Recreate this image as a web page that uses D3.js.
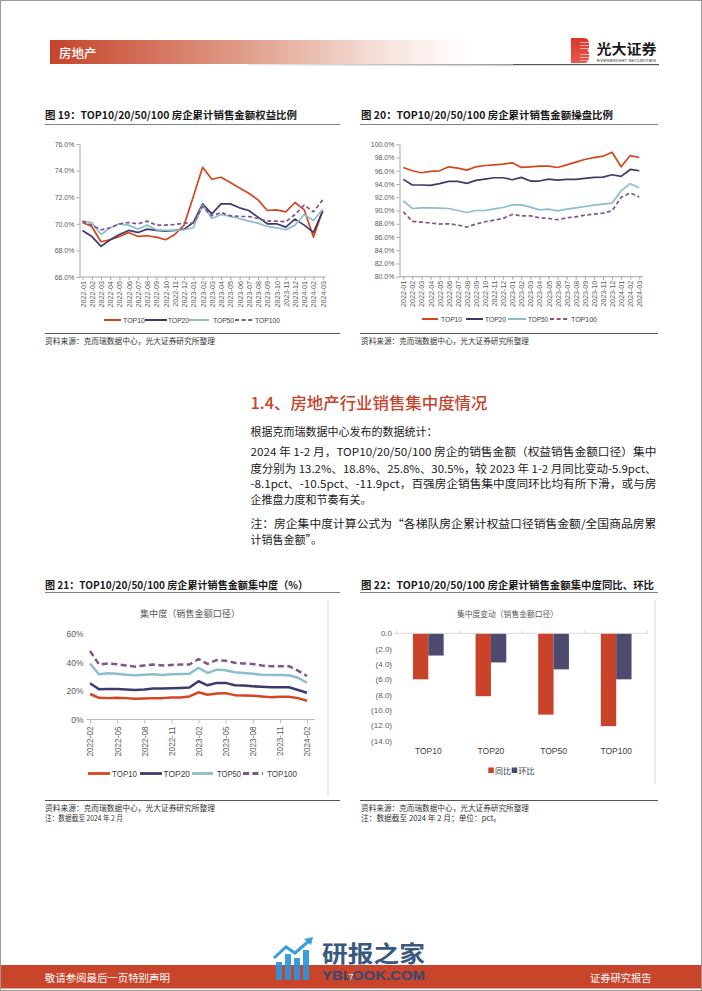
<!DOCTYPE html>
<html><head><meta charset="utf-8">
<script src="https://cdn.jsdelivr.net/npm/d3@7"></script>
<style>body{margin:0;background:#fff}svg{display:block}</style>
</head><body>
<svg id="page" width="702" height="991"></svg>
<script>
// ---------------- DATA ----------------
const months = ['2022-01','2022-02','2022-03','2022-04','2022-05','2022-06','2022-07','2022-08','2022-09','2022-10','2022-11','2022-12',
  '2023-01','2023-02','2023-03','2023-04','2023-05','2023-06','2023-07','2023-08','2023-09','2023-10','2023-11','2023-12',
  '2024-01','2024-02','2024-03'];
const seriesNames = ['TOP10','TOP20','TOP50','TOP100'];

// Fig 19: equity share (%)
const eqTop10  = [70.1,69.8,68.65,68.8,69.05,69.35,69.05,69.1,69.0,68.8,69.2,69.9,72.05,74.25,73.35,73.5,73.1,72.7,72.3,71.8,71.0,71.05,70.9,71.6,71.05,69.0,71.0];
const eqTop20  = [69.5,69.05,68.3,68.8,69.2,69.5,69.35,69.6,69.5,69.45,69.5,69.6,70.1,71.5,70.75,71.5,71.5,71.2,71.0,70.5,70.0,70.0,69.75,70.35,69.9,69.35,70.95];
const eqTop50  = [70.2,70.1,69.2,69.7,70.0,69.9,69.6,69.9,69.55,69.5,69.5,69.55,69.7,71.4,70.4,70.7,70.55,70.4,70.2,70.05,69.8,69.7,69.55,69.9,70.7,70.25,71.1];
const eqTop100 = [70.2,69.9,69.55,69.7,70.0,70.1,70.0,70.2,69.9,69.9,69.95,70.05,70.05,71.3,70.6,70.85,70.6,70.55,70.55,70.4,70.2,70.2,70.15,70.7,71.4,70.9,71.8];
const eqTicks = [66,68,70,72,74,76];

// Fig 20: operating share (%)
const opTop10  = [96.5,96.0,95.7,95.9,96.0,96.6,96.4,96.1,96.6,96.8,96.9,97.0,97.2,96.5,96.6,96.7,96.7,96.5,96.9,97.3,97.7,98.0,98.2,98.8,96.6,98.3,98.0];
const opTop20  = [94.7,93.85,93.85,93.8,94.05,94.4,94.4,94.1,94.55,94.75,94.95,94.95,94.65,95.0,94.45,94.45,94.75,94.6,94.7,94.7,94.85,95.0,95.05,95.4,95.15,96.2,96.0];
const opTop50  = [91.45,90.3,90.4,90.4,90.35,90.3,90.0,89.7,90.0,90.0,90.25,90.45,90.85,90.85,90.5,90.1,90.2,89.95,90.2,90.4,90.6,90.8,90.95,91.1,93.0,94.05,93.45];
const opTop100 = [89.8,88.35,88.25,88.1,87.95,88.0,87.8,87.5,87.95,88.3,88.55,88.8,89.4,89.2,89.2,88.9,88.8,88.6,88.9,89.05,89.3,89.45,89.6,89.95,92.0,92.65,92.05];
const opTicks = [80,82,84,86,88,90,92,94,96,98,100];

// Fig 21: concentration (%)
const months21 = ['2022-02','2022-03','2022-04','2022-05','2022-06','2022-07','2022-08','2022-09','2022-10','2022-11','2022-12','2023-01',
  '2023-02','2023-03','2023-04','2023-05','2023-06','2023-07','2023-08','2023-09','2023-10','2023-11','2023-12','2024-01','2024-02'];
const ticks21 = ['2022-02','2022-05','2022-08','2022-11','2023-02','2023-05','2023-08','2023-11','2024-02'];
const cTop10  = [17.9,15.2,15.0,15.2,15.0,14.5,14.8,15.0,15.0,15.5,15.5,16.2,19.1,17.4,18.3,18.5,17.1,16.9,16.7,16.2,15.7,16.0,16.0,15.0,13.2];
const cTop20  = [25.5,21.2,21.4,21.4,21.0,20.7,21.0,21.7,21.7,21.9,22.1,22.4,26.9,24.0,25.7,25.7,24.0,23.8,23.3,22.9,22.6,22.6,22.6,20.7,18.8];
const cTop50  = [39.3,31.7,32.4,32.1,31.4,31.0,31.4,31.7,31.2,31.7,31.9,32.1,36.3,32.6,35.0,34.5,33.1,32.6,32.1,31.4,31.2,31.2,31.0,29.3,25.8];
const cTop100 = [48.1,38.6,39.3,38.8,37.9,37.1,37.9,38.6,37.9,38.3,38.6,38.6,42.4,39.0,41.7,41.2,39.8,39.3,39.0,37.9,37.4,37.4,37.4,34.3,30.5];
const cTicks = [0,20,40,60];

// Fig 22: change (pct)
const chgCats = ['TOP10','TOP20','TOP50','TOP100'];
const chgNames = ['同比','环比'];
const chgYoY = [-6.0,-8.2,-10.6,-12.1];
const chgMoM = [-2.9,-3.8,-4.7,-6.0];
const chgTicks = [0,-2,-4,-6,-8,-10,-12,-14];

// ---------------- STYLE ----------------
const CJK = "'Noto Sans CJK SC','Noto Sans',sans-serif";
const LAT = "'Liberation Sans',Arial,sans-serif";
const COL = {TOP10:'#d6451f', TOP20:'#3d3b6c', TOP50:'#8cbdce', TOP100:'#7e568a'};
const BAR = {'同比':'#c8432a','环比':'#4c4a6e'};

const svg = d3.select('#page');
const defs = svg.append('defs');

// page frame
svg.append('rect').attr('x',0.5).attr('y',0.5).attr('width',701).attr('height',990)
  .attr('fill','none').attr('stroke','#9a9a9a');

// ---------------- HEADER ----------------
const hg = defs.append('linearGradient').attr('id','hdr').attr('x1','0').attr('x2','1').attr('y1','0').attr('y2','0');
hg.append('stop').attr('offset','0').attr('stop-color','#c6432b');
hg.append('stop').attr('offset','0.45').attr('stop-color','#df9a86');
hg.append('stop').attr('offset','0.8').attr('stop-color','#f6e2dc');
hg.append('stop').attr('offset','1').attr('stop-color','#ffffff');
svg.append('rect').attr('x',50).attr('y',40).attr('width',418).attr('height',24).attr('fill','url(#hdr)');
svg.append('text').attr('x',59).attr('y',52).attr('dominant-baseline','central')
  .attr('font-family',CJK).attr('font-size',12.5).attr('font-weight',500).attr('fill','#fff').text('房地产');
const lg1 = defs.append('linearGradient').attr('id','hl').attr('x1','0').attr('x2','1');
lg1.append('stop').attr('offset','0').attr('stop-color','#eeeeee');
lg1.append('stop').attr('offset','1').attr('stop-color','#9a9a9a');
svg.append('rect').attr('x',248).attr('y',64).attr('width',265).attr('height',1.5).attr('fill','url(#hl)');
svg.append('rect').attr('x',513).attr('y',64).attr('width',146).attr('height',1.2).attr('fill','#555');
// logo
const lgB = defs.append('linearGradient').attr('id','lb').attr('x1','0').attr('x2','0').attr('y1','0').attr('y2','1');
lgB.append('stop').attr('offset','0').attr('stop-color','#d9362b');
lgB.append('stop').attr('offset','1').attr('stop-color','#e8584a');
svg.append('path').attr('d','M571,38 H584 Q589,38 589,44 V48 Q589,50 587,50.5 Q589,51 589,53 V57 Q589,63 584,63 H571 Z').attr('fill','url(#lb)');
[42,45,48,54,57,60].forEach(yy=>svg.append('rect').attr('x',580).attr('y',yy).attr('width',9).attr('height',0.8).attr('fill','#fff').attr('opacity',0.7));
svg.append('text').attr('x',596.5).attr('y',48.3).attr('dominant-baseline','central')
  .attr('font-family',CJK).attr('font-size',14).attr('font-weight',700).attr('fill','#1a1a1a')
  .attr('textLength',60).attr('lengthAdjust','spacingAndGlyphs').text('光大证券');
svg.append('text').attr('x',597).attr('y',60).attr('dominant-baseline','central')
  .attr('font-family',LAT).attr('font-size',4).attr('fill','#333')
  .attr('textLength',59).attr('lengthAdjust','spacingAndGlyphs').text('EVERBRIGHT SECURITIES');

// ---------------- helpers ----------------
function txt(x,y,s,o){
  const t = svg.append('text').attr('x',x).attr('y',y).attr('dominant-baseline','central')
    .attr('font-family',o.font||CJK).attr('font-size',o.size).attr('fill',o.fill||'#1a1a1a')
    .attr('font-weight',o.weight||400).attr('text-anchor',o.anchor||'start').text(s);
  if(o.len) t.attr('textLength',o.len).attr('lengthAdjust','spacingAndGlyphs');
  return t;
}
function hline(x1,x2,y,c,w){svg.append('line').attr('x1',x1).attr('x2',x2).attr('y1',y).attr('y2',y).attr('stroke',c).attr('stroke-width',w||1);}
function vline(x,y1,y2,c,w){svg.append('line').attr('x1',x).attr('x2',x).attr('y1',y1).attr('y2',y2).attr('stroke',c).attr('stroke-width',w||1);}

// figure titles
txt(45,114,'图 19：TOP10/20/50/100 房企累计销售金额权益比例',{size:10.5,weight:700,len:252});
hline(45,340,124.5,'#7f7f7f');
txt(361,114,'图 20：TOP10/20/50/100 房企累计销售金额操盘比例',{size:10.5,weight:700,len:252});
hline(360,658,124.5,'#7f7f7f');
txt(45,584.5,'图 21：TOP10/20/50/100 房企累计销售金额集中度（%）',{size:10.5,weight:700,len:263});
hline(45,340,592.5,'#7f7f7f');
txt(361,584.5,'图 22：TOP10/20/50/100 房企累计销售金额集中度同比、环比',{size:10.5,weight:700,len:293});
hline(360,658,592.5,'#7f7f7f');

// sources
hline(45,340,333.5,'#555');
txt(45,340.5,'资料来源：克而瑞数据中心，光大证券研究所整理',{size:7.8,fill:'#333',len:170});
hline(360,658,333.5,'#555');
txt(361,340.5,'资料来源：克而瑞数据中心，光大证券研究所整理',{size:7.8,fill:'#333',len:168});
hline(45,340,800.5,'#555');
txt(45,807.5,'资料来源：克而瑞数据中心，光大证券研究所整理',{size:7.8,fill:'#333',len:170});
txt(45,817.5,'注：数据截至 2024 年 2 月',{size:7.8,fill:'#333',len:78});
hline(360,658,800.5,'#555');
txt(361,807.5,'资料来源：克而瑞数据中心，光大证券研究所整理',{size:7.8,fill:'#333',len:168});
txt(361,817.5,'注：数据截至 2024 年 2 月；单位：pct。',{size:7.8,fill:'#333',len:140});

// ---------------- line charts ----------------
function lineChart(o){
  const g = svg.append('g');
  const x = d3.scalePoint().domain(o.cats).range(o.xr);
  const y = d3.scaleLinear().domain(o.yd).range(o.yr);
  const ya = g.append('g').attr('transform',`translate(${o.ax},0)`)
    .call(d3.axisLeft(y).tickValues(o.yt).tickFormat(o.fmt).tickSize(o.ytick).tickSizeOuter(0).tickPadding(o.ypad));
  ya.select('.domain').attr('stroke',o.axisCol).attr('stroke-width',o.showY?1:0);
  ya.selectAll('.tick line').attr('stroke',o.axisCol);
  ya.selectAll('text').attr('font-family',o.tickFont).attr('font-size',o.tickSize).attr('fill','#595959');
  const xa = g.append('g').attr('transform',`translate(0,${o.yr[0]})`)
    .call(d3.axisBottom(x).tickValues(o.xt||o.cats).tickSize(o.xtick).tickSizeOuter(0));
  xa.select('.domain').attr('stroke',o.axisCol).attr('d',`M${o.ax},0H${o.xend}`);
  xa.selectAll('.tick line').attr('stroke',o.axisCol);
  xa.selectAll('text').attr('font-family',o.tickFont).attr('font-size',o.xTickSize).attr('fill','#595959')
    .attr('transform','rotate(-90)').attr('text-anchor','end').attr('x',-o.xpad).attr('y',0).attr('dy','0.35em');
  o.series.forEach(s=>{
    const line = d3.line().x((d,i)=>x(o.cats[i])).y(d=>y(d));
    g.append('path').datum(s.values).attr('d',line).attr('fill','none')
      .attr('stroke',COL[s.name]).attr('stroke-width',o.lw).attr('stroke-linejoin','round')
      .attr('stroke-dasharray',s.name==='TOP100'?o.dash:null);
  });
  o.legend.forEach((l,i)=>{
    const name = o.series[i].name;
    g.append('line').attr('x1',l[0]).attr('x2',l[1]).attr('y1',o.ly).attr('y2',o.ly)
      .attr('stroke',COL[name]).attr('stroke-width',o.lw+0.3).attr('stroke-dasharray',name==='TOP100'?o.dash:null);
    g.append('text').attr('x',l[2]).attr('y',o.ly).attr('dominant-baseline','central')
      .attr('font-family',o.tickFont).attr('font-size',o.legSize).attr('fill','#404040')
      .attr('textLength',l[3]).attr('lengthAdjust','spacingAndGlyphs').text(name);
  });
}

lineChart({cats:months, xr:[82.5,322.7], yd:[66,76], yr:[277,144], yt:eqTicks, fmt:d=>d.toFixed(1)+'%',
  ax:79.5, xend:326, ytick:3, ypad:2, xtick:3, xpad:4, showY:true, axisCol:'#a6a6a6', tickFont:LAT, tickSize:7, xTickSize:7.2,
  lw:1.7, dash:'4,2.6',
  series:[{name:'TOP10',values:eqTop10},{name:'TOP20',values:eqTop20},{name:'TOP50',values:eqTop50},{name:'TOP100',values:eqTop100}],
  ly:320, legend:[[104,121,123,22],[145,167,168,21],[189,209,213,21],[235,253,255,25]], legSize:7.2});

lineChart({cats:months, xr:[403.3,639.3], yd:[80,100], yr:[276.7,144.3], yt:opTicks, fmt:d=>d.toFixed(1)+'%',
  ax:399.5, xend:643, ytick:3, ypad:2, xtick:3, xpad:4, showY:true, axisCol:'#a6a6a6', tickFont:LAT, tickSize:7, xTickSize:7.2,
  lw:1.7, dash:'4,2.6',
  series:[{name:'TOP10',values:opTop10},{name:'TOP20',values:opTop20},{name:'TOP50',values:opTop50},{name:'TOP100',values:opTop100}],
  ly:319, legend:[[422,438,441,21],[466,483,485,21],[508,526,528,20],[550,568,571,26]], legSize:7.2});

// Fig 21 frame + inner title
vline(328,600,796,'#d9d9d9');
txt(190,613.3,'集中度（销售金额口径）',{size:9.5,fill:'#595959',anchor:'middle',len:100});
lineChart({cats:months21, xt:ticks21, xr:[90,307], yd:[0,60], yr:[719.5,634], yt:cTicks, fmt:d=>d+'%',
  ax:86.5, xend:315, ytick:0, ypad:3, xtick:4, xpad:7, showY:false, axisCol:'#bfbfbf', tickFont:LAT, tickSize:8.5, xTickSize:8.2,
  lw:2.5, dash:'6,3.5',
  series:[{name:'TOP10',values:cTop10},{name:'TOP20',values:cTop20},{name:'TOP50',values:cTop50},{name:'TOP100',values:cTop100}],
  ly:773.5, legend:[[88,110,112,25],[140,162,163.5,26.5],[192,213,217,24],[243,263,267,30]], legSize:8.5});

// ---------------- Fig 22 bars ----------------
vline(655,600,784,'#d9d9d9');
txt(507.5,612.7,'集中度变动（销售金额口径）',{size:8.5,fill:'#595959',anchor:'middle',len:101});
(function(){
  const g = svg.append('g');
  const x0 = d3.scaleBand().domain(chgCats).range([397,647.5]);
  const grp = x0.bandwidth()*0.49;
  const x1 = d3.scaleBand().domain(chgNames).range([0,grp]);
  const y = d3.scaleLinear().domain([-14,0]).range([740.7,633.3]);
  const ya = g.append('g').attr('transform','translate(395,0)')
    .call(d3.axisLeft(y).tickValues(chgTicks).tickSize(0).tickPadding(3)
      .tickFormat(d=>d===0?'0.0':'('+Math.abs(d).toFixed(1)+')'));
  ya.select('.domain').remove();
  ya.selectAll('text').attr('font-family',LAT).attr('font-size',8).attr('fill','#595959');
  const rows = chgCats.map((c,i)=>({cat:c, vals:[{k:'同比',v:chgYoY[i]},{k:'环比',v:chgMoM[i]}]}));
  rows.forEach(r=>{
    const off = x0(r.cat)+(x0.bandwidth()-grp)/2;
    r.vals.forEach(d=>{
      g.append('rect').attr('x',off+x1(d.k)).attr('width',x1.bandwidth())
        .attr('y',y(0)).attr('height',y(d.v)-y(0)).attr('fill',BAR[d.k]);
    });
    g.append('text').attr('x',x0(r.cat)+x0.bandwidth()/2).attr('y',750.7).attr('dominant-baseline','central')
      .attr('text-anchor','middle').attr('font-family',LAT).attr('font-size',8.5).attr('fill','#404040').text(r.cat);
  });
  g.append('line').attr('x1',395).attr('x2',647.5).attr('y1',y(0)).attr('y2',y(0)).attr('stroke','#d9d9d9');
  x0.domain().forEach(c=>{
    g.append('line').attr('x1',x0(c)).attr('x2',x0(c)).attr('y1',y(0)-3).attr('y2',y(0)).attr('stroke','#d9d9d9');
  });
  g.append('line').attr('x1',647.5).attr('x2',647.5).attr('y1',y(0)-3).attr('y2',y(0)).attr('stroke','#d9d9d9');
  const lx = [488.3,511.7];
  chgNames.forEach((n,i)=>{
    g.append('rect').attr('x',lx[i]).attr('y',767.5).attr('width',5.5).attr('height',5.5).attr('fill',BAR[n]);
    g.append('text').attr('x',lx[i]+6.8).attr('y',770.5).attr('dominant-baseline','central')
      .attr('font-family',CJK).attr('font-size',8).attr('fill','#404040').text(n);
  });
})();

// ---------------- body text ----------------
txt(250.4,401.7,'1.4、房地产行业销售集中度情况',{size:15.5,fill:'#c8412a',weight:500,len:237});
const W = 406;
txt(250.4,430.7,'根据克而瑞数据中心发布的数据统计：',{size:11});
txt(250.4,451,'2024 年 1-2 月，TOP10/20/50/100 房企的销售金额（权益销售金额口径）集中',{size:11,len:W});
txt(250.4,467.5,'度分别为 13.2%、18.8%、25.8%、30.5%，较 2023 年 1-2 月同比变动-5.9pct、',{size:11,len:W});
txt(250.4,483.3,'-8.1pct、-10.5pct、-11.9pct，百强房企销售集中度同环比均有所下滑，或与房',{size:11,len:W});
txt(250.4,498.6,'企推盘力度和节奏有关。',{size:11});
txt(250.4,523.3,'注：房企集中度计算公式为“各梯队房企累计权益口径销售金额/全国商品房累',{size:11,len:W});
txt(250.4,538.6,'计销售金额”。',{size:11});

// ---------------- footer ----------------
svg.append('rect').attr('x',1).attr('y',965).attr('width',700).attr('height',23.5).attr('fill','#c8442a');
txt(44.8,977.3,'敬请参阅最后一页特别声明',{size:10.5,fill:'#fff',len:125});
txt(590,977.3,'证券研究报告',{size:10.5,fill:'#fff',len:61.6});
// watermark (drawn under page number)
const wm = svg.append('g').attr('opacity',0.92);
[[276,962,6],[285,954,6],[294,958,6],[303,950,6]].forEach(b=>wm.append('rect').attr('x',b[0]).attr('y',b[1]).attr('width',b[2]).attr('height',980-b[1]).attr('fill','#2b95dc'));
wm.append('polyline').attr('points','274,958 286,947 295,953 310,940').attr('fill','none').attr('stroke','#2b95dc').attr('stroke-width',3);
wm.append('path').attr('d','M313,937 L304,939 L311,945 Z').attr('fill','#2b95dc');
wm.append('text').attr('x',322).attr('y',962).attr('font-family',CJK).attr('font-size',23).attr('font-weight',700)
  .attr('fill','#2a4a76').attr('textLength',103).attr('lengthAdjust','spacingAndGlyphs').text('研报之家');
wm.append('text').attr('x',322).attr('y',980).attr('font-family',LAT).attr('font-size',13).attr('font-weight',700)
  .attr('fill','#2a4a76').attr('textLength',103).attr('lengthAdjust','spacingAndGlyphs').text('YBLOOK.COM');
txt(351,977.3,'7',{size:9,fill:'#fff',anchor:'middle',font:LAT});
</script>
</body></html>
